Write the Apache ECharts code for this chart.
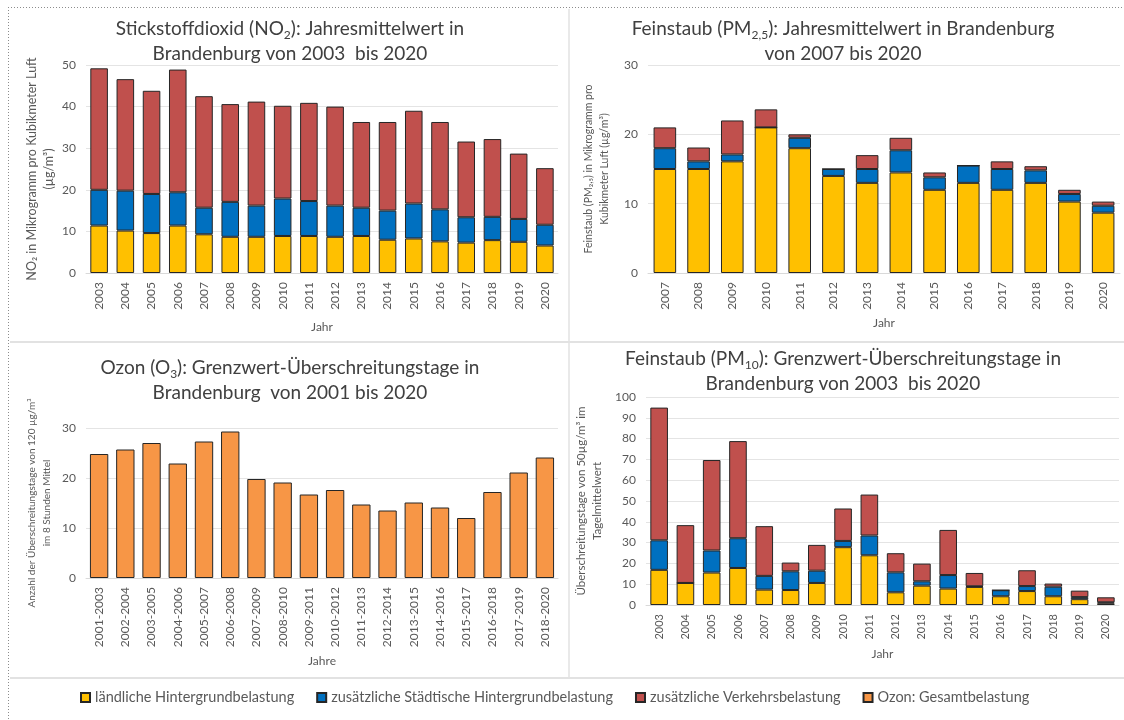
<!DOCTYPE html>
<html>
<head>
<meta charset="utf-8">
<script src="https://cdn.jsdelivr.net/npm/echarts@6/dist/echarts.min.js"></script>
<style>
  html, body { margin: 0; padding: 0; background: #ffffff; }
  #chart { width: 1124px; height: 720px; }
</style>
</head>
<body>
<div id="chart"></div>
<script>
// Stickstoffdioxid (NO2), Jahresmittelwert in µg/m³, 2003–2020
const no2Years = ['2003','2004','2005','2006','2007','2008','2009','2010','2011','2012','2013','2014','2015','2016','2017','2018','2019','2020'];
const no2Rural   = [11.4,10.2,9.6,11.4,9.3,8.7,8.7,8.9,8.9,8.7,8.9,8.0,8.3,7.6,7.3,7.9,7.5,6.6];
const no2Urban   = [8.6,9.6,9.4,8.0,6.4,8.4,7.5,9.0,8.4,7.5,6.8,7.0,8.4,7.7,6.1,5.6,5.5,5.0];
const no2Traffic = [29.2,26.8,24.8,29.5,26.8,23.5,25.0,22.3,23.6,23.8,20.6,21.3,22.3,21.0,18.2,18.7,15.7,13.6];

// Feinstaub PM2,5, Jahresmittelwert in µg/m³, 2007–2020
const pm25Years = ['2007','2008','2009','2010','2011','2012','2013','2014','2015','2016','2017','2018','2019','2020'];
const pm25Rural   = [15.0,15.0,16.1,21.0,18.0,14.0,13.0,14.5,12.0,13.0,12.0,13.0,10.3,8.7];
const pm25Urban   = [3.0,1.1,1.0,0,1.5,1.0,2.0,3.2,1.8,2.5,3.0,1.8,1.1,1.0];
const pm25Traffic = [3.0,2.0,4.9,2.6,0.5,0,2.0,1.8,0.7,0,1.1,0.6,0.6,0.6];

// Ozon, Überschreitungstage (3-Jahres-Mittel), 2001–2020
const o3Periods = ['2001-2003','2002-2004','2003-2005','2004-2006','2005-2007','2006-2008','2007-2009','2008-2010','2009-2011','2010-2012','2011-2013','2012-2014','2013-2015','2014-2016','2015-2017','2016-2018','2017-2019','2018-2020'];
const o3Days = [24.8,25.7,27.0,22.9,27.3,29.3,19.8,19.1,16.7,17.6,14.7,13.5,15.1,14.1,12.0,17.2,21.1,24.1];

// Feinstaub PM10, Überschreitungstage, 2003–2020
const pm10Years = ['2003','2004','2005','2006','2007','2008','2009','2010','2011','2012','2013','2014','2015','2016','2017','2018','2019','2020'];
const pm10Rural   = [16.9,10.6,15.6,17.8,7.4,7.2,10.6,27.8,23.9,6.1,9.3,7.9,8.7,4.2,6.7,4.2,2.8,0.8];
const pm10Urban   = [14.2,0,10.6,14.3,6.6,9.0,5.9,3.0,9.5,9.6,2.1,6.5,0.3,2.9,2.4,4.6,1.0,0.5];
const pm10Traffic = [63.8,27.8,43.5,46.7,23.9,4.2,12.4,15.6,19.7,9.2,8.5,21.7,6.4,0,7.6,1.5,3.1,2.4];

const NAME_RURAL = 'ländliche Hintergrundbelastung';
const NAME_URBAN = 'zusätzliche Städtische Hintergrundbelastung';
const NAME_TRAFFIC = 'zusätzliche Verkehrsbelastung';
const NAME_OZONE = 'Ozon: Gesamtbelastung';

const COL_RURAL = '#FFC000';
const COL_URBAN = '#0070C0';
const COL_TRAFFIC = '#C0504D';
const COL_OZONE = '#F79646';

const FONT = 'Lato, "Open Sans", sans-serif';
const TXT = '#595959';
const TITLE = '#404040';
const GRIDLINE = '#E4E4E4';

function titleRich() {
  return {
    t: { fontFamily: FONT, fontSize: 19, fontWeight: 'normal', color: TITLE, lineHeight: 25 },
    s: { fontFamily: FONT, fontSize: 12, fontWeight: 'normal', color: TITLE, lineHeight: 25, verticalAlign: 'bottom' }
  };
}

function makeTitle(text, x, y) {
  return {
    text: text, left: x, top: y, textAlign: 'center', padding: 0,
    textStyle: { fontWeight: 'normal', rich: titleRich() }
  };
}

function xAxis(grid, data, nameText, nameGap, labelSize) {
  return {
    type: 'category', gridIndex: grid, data: data,
    name: nameText, nameLocation: 'middle', nameGap: nameGap,
    nameTextStyle: { fontFamily: FONT, fontSize: 12, color: TXT },
    axisLine: { lineStyle: { color: '#D9D9D9', width: 1 } },
    axisTick: { show: false },
    axisLabel: { rotate: 90, fontFamily: FONT, fontSize: labelSize, color: TXT, margin: 9 }
  };
}

function yAxis(grid, max, interval, nameText, nameGap, nameSize) {
  return {
    type: 'value', gridIndex: grid, min: 0, max: max, interval: interval,
    name: nameText, nameLocation: 'middle', nameGap: nameGap,
    nameTextStyle: { fontFamily: FONT, fontSize: nameSize, color: TXT, lineHeight: nameSize + 5 },
    axisLine: { show: false }, axisTick: { show: false },
    axisLabel: { fontFamily: FONT, fontSize: 12, color: TXT, margin: 10 },
    splitLine: { lineStyle: { color: GRIDLINE, width: 1 } }
  };
}

function bar(name, color, data, idx, gap, stack) {
  const s = {
    name: name, type: 'bar', xAxisIndex: idx, yAxisIndex: idx, data: data,
    barCategoryGap: gap,
    itemStyle: { color: color, borderColor: '#262626', borderWidth: 1 },
    emphasis: { disabled: true }
  };
  if (stack) s.stack = stack;
  return s;
}

const dividers = [
  // outer dotted frame
  { type: 'line', shape: { x1: 8, y1: 7.5, x2: 1122, y2: 7.5 }, style: { stroke: '#8C8C8C', lineWidth: 1, lineDash: [1, 2] }, silent: true },
  { type: 'line', shape: { x1: 8.5, y1: 7, x2: 8.5, y2: 720 }, style: { stroke: '#8C8C8C', lineWidth: 1, lineDash: [1, 2] }, silent: true },
  // panel separators
  { type: 'line', shape: { x1: 569, y1: 9, x2: 569, y2: 678 }, style: { stroke: '#E2E2E2', lineWidth: 1.5 }, silent: true },
  { type: 'line', shape: { x1: 10, y1: 342, x2: 1124, y2: 342 }, style: { stroke: '#E2E2E2', lineWidth: 2 }, silent: true },
  { type: 'line', shape: { x1: 10, y1: 678, x2: 1124, y2: 678 }, style: { stroke: '#E2E2E2', lineWidth: 2 }, silent: true }
];

const option = {
  backgroundColor: '#ffffff',
  animation: false,
  title: [
    makeTitle('{t|Stickstoffdioxid (NO}{s|2}{t|): Jahresmittelwert in}\n{t|Brandenburg von 2003  bis 2020}', 290, 16),
    makeTitle('{t|Feinstaub (PM}{s|2,5}{t|): Jahresmittelwert in Brandenburg}\n{t|von 2007 bis 2020}', 843, 16),
    makeTitle('{t|Ozon (O}{s|3}{t|): Grenzwert-Überschreitungstage in}\n{t|Brandenburg  von 2001 bis 2020}', 290, 355),
    makeTitle('{t|Feinstaub (PM}{s|10}{t|): Grenzwert-Überschreitungstage in}\n{t|Brandenburg von 2003  bis 2020}', 843, 346)
  ],
  legend: {
    left: 75, top: 685, itemWidth: 9, itemHeight: 9, itemGap: 22,
    icon: 'rect',
    textStyle: { fontFamily: FONT, fontSize: 14.5, color: TXT },
    data: [NAME_RURAL, NAME_URBAN, NAME_TRAFFIC, NAME_OZONE],
    selectedMode: false
  },
  grid: [
    { left: 86, right: 566, top: 65, bottom: 447 },
    { left: 648, right: 4, top: 65, bottom: 447 },
    { left: 86, right: 566, top: 428, bottom: 142 },
    { left: 646, right: 5, top: 397, bottom: 115 }
  ],
  xAxis: [
    xAxis(0, no2Years, 'Jahr', 48, 12),
    xAxis(1, pm25Years, 'Jahr', 44, 12),
    xAxis(2, o3Periods, 'Jahre', 77, 12),
    xAxis(3, pm10Years, 'Jahr', 43, 11)
  ],
  yAxis: [
    yAxis(0, 50, 10, 'NO\u2082 in Mikrogramm pro Kubikmeter Luft\n(µg/m³)', 28, 12.5),
    yAxis(1, 30, 10, 'Feinstaub (PM\u2082,\u2085) in Mikrogramm pro\nKubikmeter Luft (µg/m³)', 36, 10.5),
    yAxis(2, 30, 10, 'Anzahl der Überschreitungstage von 120 µg/m³\nim 8 Stunden Mittel', 32, 10),
    yAxis(3, 100, 10, 'Überschreitungstage von 50µg/m³ im\nTagelmittelwert', 40, 11.5)
  ],
  series: [
    bar(NAME_RURAL, COL_RURAL, no2Rural, 0, '33%', 'no2'),
    bar(NAME_URBAN, COL_URBAN, no2Urban, 0, '33%', 'no2'),
    bar(NAME_TRAFFIC, COL_TRAFFIC, no2Traffic, 0, '33%', 'no2'),

    bar(NAME_RURAL, COL_RURAL, pm25Rural, 1, '33%', 'pm25'),
    bar(NAME_URBAN, COL_URBAN, pm25Urban, 1, '33%', 'pm25'),
    bar(NAME_TRAFFIC, COL_TRAFFIC, pm25Traffic, 1, '33%', 'pm25'),

    bar(NAME_OZONE, COL_OZONE, o3Days, 2, '30%', null),

    bar(NAME_RURAL, COL_RURAL, pm10Rural, 3, '33%', 'pm10'),
    bar(NAME_URBAN, COL_URBAN, pm10Urban, 3, '33%', 'pm10'),
    bar(NAME_TRAFFIC, COL_TRAFFIC, pm10Traffic, 3, '33%', 'pm10')
  ],
  graphic: dividers
};

const chart = echarts.init(document.getElementById('chart'), null, { renderer: 'canvas' });
chart.setOption(option);
</script>
</body>
</html>
